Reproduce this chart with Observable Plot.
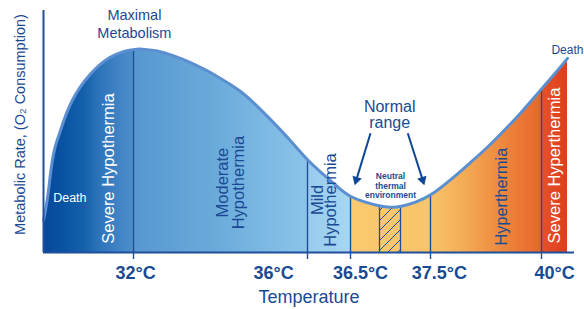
<!DOCTYPE html>
<html>
<head>
<meta charset="utf-8">
<script src="https://cdn.jsdelivr.net/npm/d3@7"></script>
<script src="https://cdn.jsdelivr.net/npm/@observablehq/plot@0.6"></script>
<style>
  html, body { margin: 0; padding: 0; background: #ffffff; }
  #chart svg { display: block; }
</style>
</head>
<body>
<div id="chart"></div>
<script>
// ---------------- DATA ----------------
// Schematic metabolic-rate curve: body temperature (°C) vs relative metabolic rate
const curveTemp = [28.0, 28.178, 28.311, 28.444, 28.6, 28.756, 29.022, 29.347, 29.689, 30.089, 30.444, 30.831, 31.2, 31.569, 32.0, 32.161, 32.545, 32.926, 33.31, 33.694, 34.076, 34.46, 34.805, 35.149, 35.609, 36.0, 36.186, 36.384, 36.5, 36.688, 36.8625, 37.0, 37.125, 37.3125, 37.5, 38.018, 38.401, 38.784, 39.144, 39.527, 40.0, 40.212, 40.394];
const curveRate = [13.2, 21.5, 33.1, 41.3, 46.3, 50.4, 57.9, 64.2, 69.4, 73.8, 77.3, 80.0, 81.8, 83.2, 83.9, 84.2, 83.5, 81.4, 78.6, 75.2, 71.1, 66.9, 61.2, 55.0, 46.3, 38.0, 32.2, 26.0, 22.9, 20.7, 19.2, 18.6, 18.8, 20.7, 23.3, 31.0, 37.2, 43.4, 50.2, 57.4, 67.6, 74.2, 80.2];

const tickTemps = [32, 36, 36.5, 37.5, 40];
const tickLabels = ["32°C", "36°C", "36.5°C", "37.5°C", "40°C"];
const tickLabelTemps = [32.05, 35.22, 36.625, 37.70, 40.2];

const neutralZone = [36.8625, 37.125];

const zoneNames = ["Severe Hypothermia", "Moderate\nHypothermia", "Mild\nHypothermia", "Hyperthermia", "Severe Hyperthermia"];
const zoneTemps = [30.92, 34.23, 36.206, 39.108, 40.197];
const zoneRates = [34.7, 28.9, 21.7, 23.1, 35.95];

const noteTexts = ["Maximal\nMetabolism", "Normal\nrange", "Neutral\nthermal\nenvironment", "Death", "Death"];
const noteTemps = [32.02, 36.99, 37.0, 28.43, 40.15];
const noteRates = [94.6, 57.0, 27.7, 22.7, 83.5];

const arrowStartTemps = [36.75, 37.216];
const arrowStartRates = [49.3, 49.3];
const arrowTipTemps = [36.5625, 37.4125];
const arrowTipRates = [28.9, 28.9];

const xTitle = "Temperature";
const yTitle = "Metabolic Rate, (O\u2082 Consumption)";

// ---------------- STYLE / LAYOUT ----------------
const W = 584, H = 309;
// schematic (non-linear) temperature axis: breakpoints and where they sit
const xBreaks = [28, 32, 36, 36.5, 37.5, 40, 40.5];
const xBreakPos = [43, 133, 307, 350, 430, 541, 574];
const schematic = d3.scaleLinear(xBreaks, xBreakPos);
const blue = "#1a4a93";
const axisBlue = "#1f4f9b";
const curveBlue = "#5b8fd0";
const font = "'Liberation Sans', Arial, Helvetica, sans-serif";
const heatStops = [
  [28.0, "#07479a"], [29.0, "#0a54a4"], [29.8, "#1560ab"], [30.6, "#3076bc"],
  [31.95, "#4d8dca"], [32.0, "#5697cf"], [34.0, "#6cacdc"], [35.99, "#8bc4e9"],
  [36.0, "#98cbed"], [36.49, "#a6d6f1"], [36.5, "#fac970"], [37.5, "#f8c46b"],
  [38.2, "#f4ae57"], [38.9, "#ef9143"], [39.5, "#eb7935"], [39.99, "#e7662b"],
  [40.0, "#e5522a"], [40.5, "#df371a"]
];

// ---------------- BUILD ----------------
const curve = curveTemp.map((t, i) => ({t, rate: curveRate[i]}));
const rateAt = t => curve.find(d => d.t === t).rate;
const dividers = tickTemps.map(t => ({t, rate: rateAt(t)}));
const neutralEdges = neutralZone.map(t => ({t, rate: rateAt(t)}));
const neutralCurve = curve.filter(d => d.t >= neutralZone[0] && d.t <= neutralZone[1]);
const ticks = tickLabels.map((label, i) => ({label, t: tickLabelTemps[i]}));
const zones = zoneNames.map((name, i) => ({name, t: zoneTemps[i], rate: zoneRates[i]}));
const notes = noteTexts.map((text, i) => ({text, t: noteTemps[i], rate: noteRates[i]}));

// arrow heads (triangles) placed just behind the tips
const ys = d3.scaleLinear([0, 100], [252, 10]);
const headR = 3.6;
const tipOffset = 2 * Math.sqrt((headR * headR * Math.PI) / (Math.sqrt(3) * 3));
const arrows = arrowStartTemps.map((t1, i) => {
  const x1 = schematic(t1), y1 = ys(arrowStartRates[i]);
  const x2 = schematic(arrowTipTemps[i]), y2 = ys(arrowTipRates[i]);
  const len = Math.hypot(x2 - x1, y2 - y1);
  const ux = (x2 - x1) / len, uy = (y2 - y1) / len;
  const cx = x2 - ux * tipOffset * 0.5, cy = y2 - uy * tipOffset * 0.5;
  return {
    t1, r1: arrowStartRates[i],
    t2: schematic.invert(cx), r2: ys.invert(cy),
    angle: Math.atan2(ux, -uy) * 180 / Math.PI
  };
});

const curveType = "basis";

const chart = Plot.plot({
  width: W,
  height: H,
  marginLeft: 43,
  marginRight: 10,
  marginTop: 10,
  marginBottom: 57,
  style: {fontFamily: font, background: "#ffffff", overflow: "visible"},
  x: {transform: schematic, domain: [xBreakPos[0], xBreakPos[xBreakPos.length - 1]], axis: null},
  y: {domain: [0, 100], axis: null},
  marks: [
    Plot.areaY(curve, {x: "t", y: "rate", fill: "url(#heatGrad)", curve: curveType}),
    Plot.areaY(neutralCurve, {x: "t", y: "rate", fill: "url(#hatchPat)", curve: "linear"}),
    Plot.ruleX(neutralEdges, {x: "t", y1: "rate", y2: 0, stroke: axisBlue, strokeWidth: 1.3}),
    Plot.ruleX(dividers, {x: "t", y1: "rate", y2: 0, stroke: axisBlue, strokeWidth: 1.4, insetBottom: -7}),
    Plot.line(curve, {x: "t", y: "rate", stroke: curveBlue, strokeWidth: 3, curve: curveType}),
    Plot.ruleY([0], {stroke: axisBlue, strokeWidth: 2}),
    Plot.ruleX([xBreaks[0]], {stroke: axisBlue, strokeWidth: 2}),
    // axis labels
    Plot.text(ticks, {x: "t", text: "label", frameAnchor: "bottom", lineAnchor: "middle", dy: 21, fill: blue, fontSize: 18, fontWeight: "bold"}),
    Plot.text([xTitle], {frameAnchor: "bottom", lineAnchor: "middle", textAnchor: "middle", dy: 45, fill: blue, fontSize: 18}),
    Plot.text([yTitle], {frameAnchor: "left", textAnchor: "middle", lineAnchor: "middle", rotate: -90, dx: -23.5, dy: -7, fill: blue, fontSize: 14.5}),
    // zone labels
    Plot.text(zones.filter((d, i) => i === 0 || i === 4), {x: "t", y: "rate", text: "name", rotate: -90, fill: "#ffffff", fontSize: 16.5}),
    Plot.text(zones.filter((d, i) => i === 1), {x: "t", y: "rate", text: "name", rotate: -90, fill: blue, fontSize: 16.5, lineHeight: 0.98}),
    Plot.text(zones.filter((d, i) => i === 2), {x: "t", y: "rate", text: "name", rotate: -90, fill: blue, fontSize: 16.5, lineHeight: 0.82}),
    Plot.text(zones.filter((d, i) => i === 3), {x: "t", y: "rate", text: "name", rotate: -90, fill: blue, fontSize: 16.3}),
    // notes
    Plot.text(notes.filter((d, i) => i === 0), {x: "t", y: "rate", text: "text", fill: blue, fontSize: 14.5, lineHeight: 1.2}),
    Plot.text(notes.filter((d, i) => i === 1), {x: "t", y: "rate", text: "text", fill: blue, fontSize: 16, lineHeight: 1.0}),
    Plot.text(notes.filter((d, i) => i === 2), {x: "t", y: "rate", text: "text", fill: blue, fontSize: 8.5, fontWeight: "bold", lineHeight: 1.12}),
    Plot.text(notes.filter((d, i) => i === 3), {x: "t", y: "rate", text: "text", fill: "#ffffff", fontSize: 12.5, textAnchor: "start"}),
    Plot.text(notes.filter((d, i) => i === 4), {x: "t", y: "rate", text: "text", fill: blue, fontSize: 12, textAnchor: "start"}),
    // arrows
    Plot.link(arrows, {x1: "t1", y1: "r1", x2: "t2", y2: "r2", stroke: "#0f4796", strokeWidth: 2}),
    Plot.dot(arrows, {x: "t2", y: "r2", symbol: "triangle", r: headR, rotate: "angle", fill: "#0f4796", stroke: "none"})
  ]
});

// gradient & hatch definitions, positioned with the plot's own x scale
const xScale = chart.scale("x");
const px = t => xScale.apply(schematic(t));
const gx0 = px(xBreaks[0]), gx1 = px(xBreaks[xBreaks.length - 1]);
const defs = d3.select(chart).insert("defs", ":first-child");
const grad = defs.append("linearGradient")
  .attr("id", "heatGrad")
  .attr("gradientUnits", "userSpaceOnUse")
  .attr("x1", gx0).attr("x2", gx1).attr("y1", 0).attr("y2", 0);
heatStops.forEach(([t, c]) => {
  grad.append("stop").attr("offset", (px(t) - gx0) / (gx1 - gx0)).attr("stop-color", c);
});
const pat = defs.append("pattern")
  .attr("id", "hatchPat")
  .attr("patternUnits", "userSpaceOnUse")
  .attr("width", 10).attr("height", 10);
pat.append("rect").attr("width", 10).attr("height", 10).attr("fill", "#f9c86c");
pat.append("path").attr("d", "M-2,2L2,-2M0,10L10,0M8,12L12,8").attr("stroke", "#1f4f9b").attr("stroke-width", 1);

document.getElementById("chart").appendChild(chart);
</script>
</body>
</html>
